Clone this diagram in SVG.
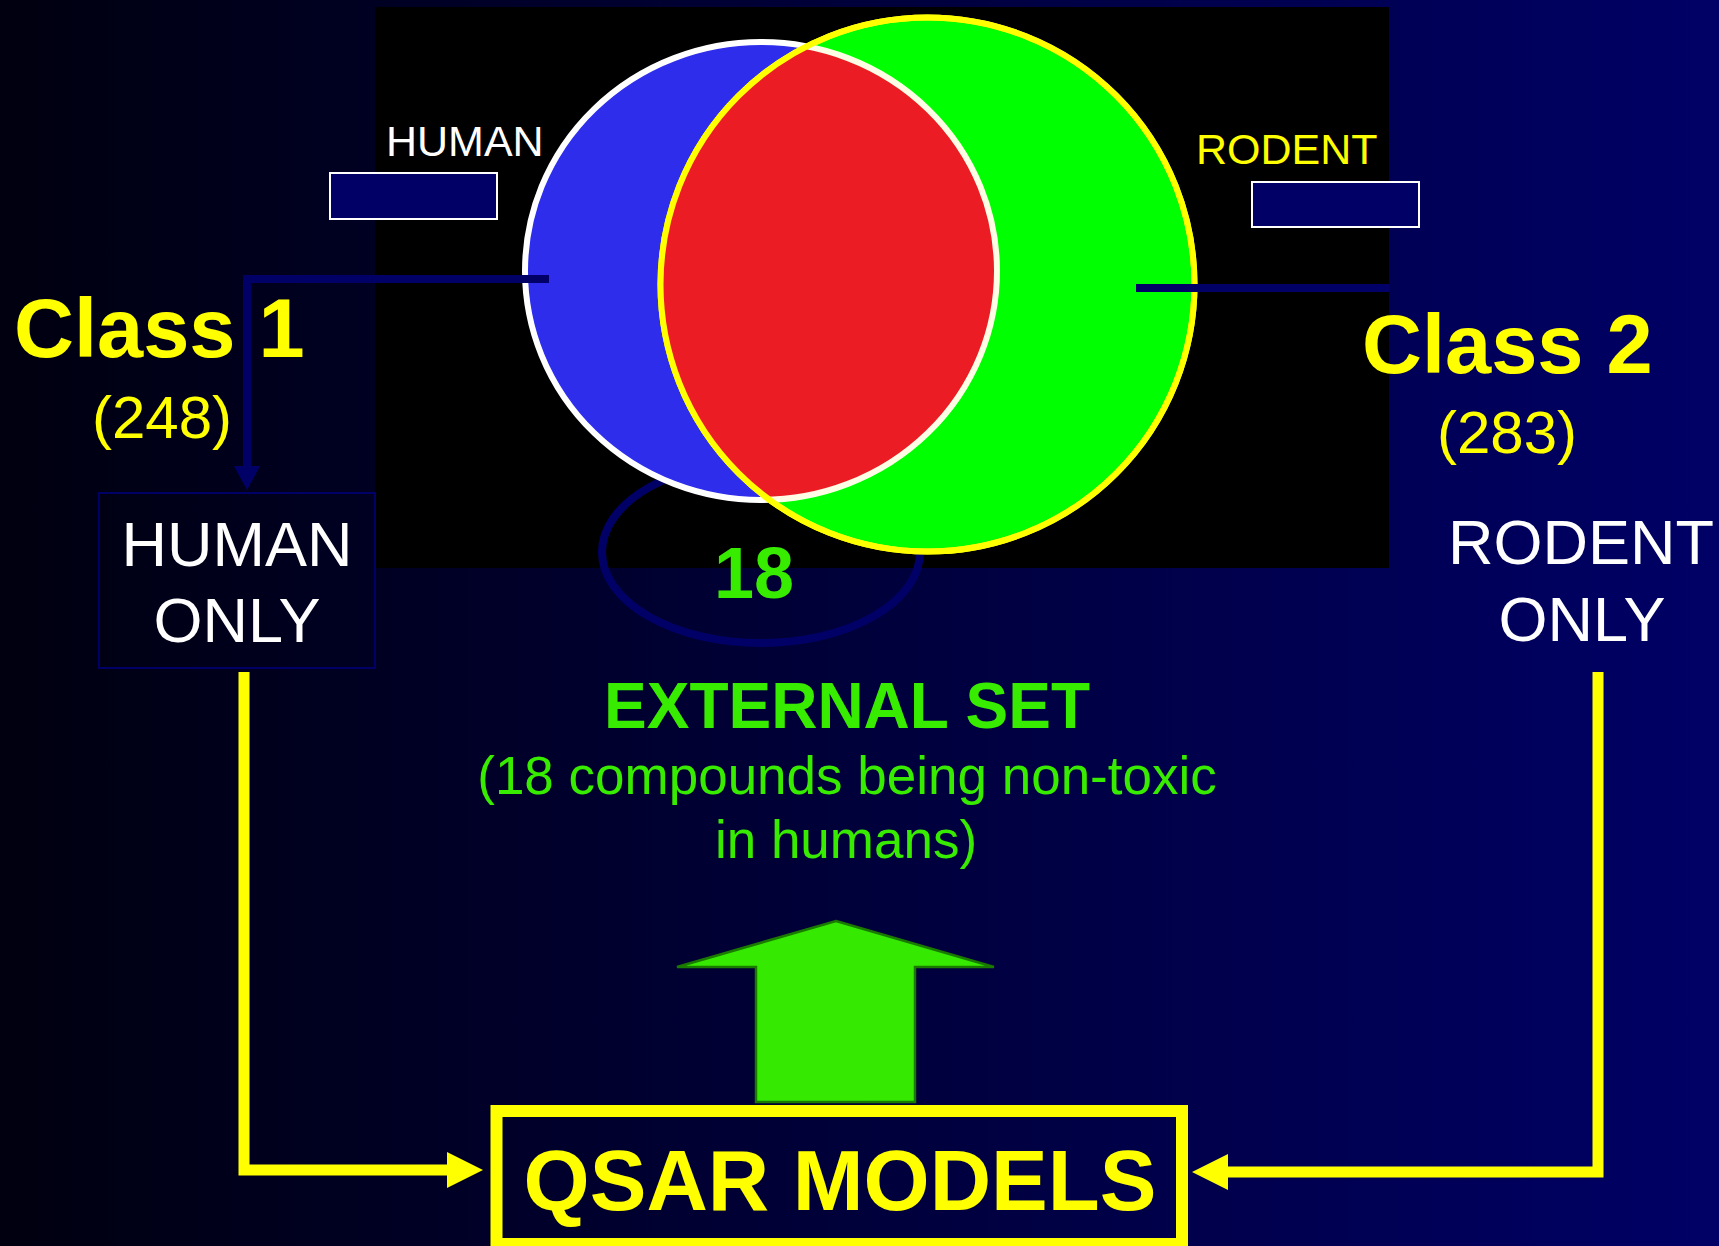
<svg xmlns="http://www.w3.org/2000/svg" width="1719" height="1246" viewBox="0 0 1719 1246">
<defs>
<linearGradient id="bg" x1="0" y1="0" x2="1" y2="0">
<stop offset="0" stop-color="#000010"/>
<stop offset="1" stop-color="#000066"/>
</linearGradient>
<clipPath id="greenClip"><circle cx="927.5" cy="284.5" r="267"/></clipPath>
</defs>
<style>
text{font-family:"Liberation Sans",Arial,sans-serif;}
.bold{font-weight:bold;}
.yel{fill:#FFFF00;}
.wht{fill:#FFFFFF;}
.grn{fill:#38EC00;}
.navyline{stroke:#000066;stroke-width:8;fill:none;}
.yline{stroke:#FFFF00;stroke-width:11;fill:none;}
.yhead{fill:#FFFF00;}
.tag{fill:#000066;stroke:#FFFFFF;stroke-width:2;}
</style>
<rect x="0" y="0" width="1719" height="1246" fill="url(#bg)"/>
<rect id="venn-bg" x="375" y="7" width="1014" height="561" fill="#000000"/>

<g id="external-ring">
<ellipse cx="761" cy="552" rx="159" ry="91" class="navyline"/>
</g>

<g id="venn">
<ellipse id="human-circle" cx="761" cy="271" rx="236" ry="229" fill="#2D2DEB" stroke="#FFFFFF" stroke-width="6"/>
<circle id="rodent-circle" cx="927.5" cy="284.5" r="267" fill="#00FF00" stroke="#FFFF00" stroke-width="6"/>
<ellipse id="overlap" cx="761" cy="271" rx="236" ry="229" fill="#EC1C24" stroke="#FFFCE6" stroke-width="6" clip-path="url(#greenClip)"/>
<circle cx="927.5" cy="284.5" r="267" fill="none" stroke="#FFFF00" stroke-width="6"/>
</g>

<g id="connectors">
<polyline points="549,279 247,279 247,470" class="navyline"/>
<polygon points="234,466 260,466 247,490" fill="#000066"/>
<line x1="1136" y1="288" x2="1389" y2="288" class="navyline"/>
<polyline points="244,672 244,1170 449,1170" class="yline"/>
<polygon points="447,1152 483,1170 447,1188" class="yhead"/>
<polyline points="1598,672 1598,1172 1226,1172" class="yline"/>
<polygon points="1228,1154 1192,1172 1228,1190" class="yhead"/>
</g>

<g id="human-tag">
<text x="386" y="156" font-size="43" class="wht">HUMAN</text>
<rect x="330" y="173" width="167" height="46" class="tag"/>
</g>
<g id="rodent-tag">
<text x="1196" y="164" font-size="43" class="yel">RODENT</text>
<rect x="1252" y="182" width="167" height="45" class="tag"/>
</g>

<g id="class1">
<text x="14" y="357" font-size="83" class="bold yel">Class 1</text>
<text x="162" y="438" font-size="60" class="yel" text-anchor="middle">(248)</text>
</g>
<g id="class2">
<text x="1362" y="373" font-size="83" class="bold yel">Class 2</text>
<text x="1507" y="453" font-size="60" class="yel" text-anchor="middle">(283)</text>
</g>

<g id="human-only">
<rect x="99" y="493" width="276" height="175" fill="none" stroke="#000066" stroke-width="2"/>
<text x="237" y="566" font-size="63" class="wht" text-anchor="middle">HUMAN</text>
<text x="237" y="642" font-size="63" class="wht" text-anchor="middle">ONLY</text>
</g>
<g id="rodent-only">
<text x="1581" y="564" font-size="63" class="wht" text-anchor="middle">RODENT</text>
<text x="1582" y="641" font-size="63" class="wht" text-anchor="middle">ONLY</text>
</g>

<g id="overlap-count">
<text x="754" y="598" font-size="72" class="bold grn" text-anchor="middle">18</text>
</g>

<g id="external-set">
<text x="847" y="728" font-size="64" class="bold grn" text-anchor="middle">EXTERNAL SET</text>
<text x="847" y="794" font-size="53" class="grn" text-anchor="middle">(18 compounds being non-toxic</text>
<text x="846" y="858" font-size="53" class="grn" text-anchor="middle">in humans)</text>
</g>

<g id="up-arrow">
<polygon points="836,921 994,967 915,967 915,1102 756,1102 756,967 677,967" fill="#35EA00" stroke="#1A7A00" stroke-width="2.5" stroke-linejoin="miter"/>
</g>

<g id="qsar-models">
<rect x="496.5" y="1111" width="685.5" height="133" fill="none" stroke="#FFFF00" stroke-width="12"/>
<text x="840" y="1210" font-size="85" class="bold yel" text-anchor="middle">QSAR MODELS</text>
</g>
</svg>
